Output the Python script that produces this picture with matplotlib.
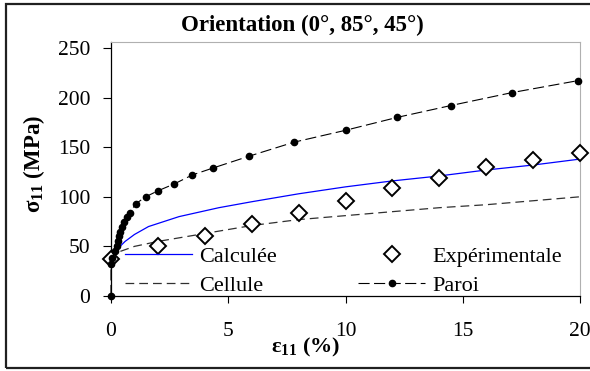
import matplotlib.pyplot as plt
from matplotlib.patches import Rectangle

plt.rcParams['font.family'] = ['Liberation Serif', 'DejaVu Serif']
plt.rcParams['mathtext.fontset'] = 'custom'
plt.rcParams['mathtext.rm'] = 'Liberation Serif'
plt.rcParams['mathtext.it'] = 'Liberation Serif:italic'
plt.rcParams['mathtext.bf'] = 'Liberation Serif:bold'

# strain (%) / stress (MPa)
calc_x = [0, 0, 0.05, 0.3, 0.6, 1.0, 1.6, 2.9, 4.6, 6, 8, 10, 12, 14, 16, 18, 20]
calc_y = [0, 28, 40, 48, 55, 62, 70, 80, 89, 95, 103, 110, 116, 121, 127, 132, 138]

exp_x = [0, 2, 4, 6, 8, 10, 12, 14, 16, 18, 20]
exp_y = [37, 50, 60, 73, 84, 96, 109, 119, 130, 137, 144]

cell_x = [0, 0.05, 0.4, 1, 2, 4, 6, 8, 10, 12, 14, 16, 18, 20]
cell_y = [36, 40, 45, 50, 55, 63, 71, 77, 81, 85, 89, 92, 96, 100]

paroi_x = [0, 0, 0.05, 0.15, 0.25, 0.3, 0.35, 0.4, 0.48, 0.57, 0.67, 0.8, 1.06,
           1.48, 2.0, 2.7, 3.47, 4.35, 5.9, 7.8, 10, 12.2, 14.5, 17.1, 19.9]
paroi_y = [0, 32, 38, 45, 50, 55, 60, 65, 70, 75, 80, 84, 93,
           100, 106, 113, 122, 129, 141, 155, 167, 180, 192, 205, 217]

fig = plt.figure(figsize=(5.9, 3.71), dpi=100)
ax = fig.add_axes([111 / 590, 1 - 296 / 371, 469 / 590, 254 / 371])

ax.plot(calc_x, calc_y, color='#0000ff', lw=0.9, label='Calculée')
ax.plot(cell_x, cell_y, color='#303030', lw=0.9, dashes=(7, 4), label='Cellule')
ax.plot(exp_x, exp_y, ls='none', marker='D', ms=8.3, mfc='white', mec='black',
        mew=1.4, label='Expérimentale', clip_on=False, zorder=5)
ax.plot(paroi_x, paroi_y, color='black', lw=0.8, dashes=(10, 4), marker='o',
        ms=4.5, label='Paroi', clip_on=False, zorder=6)

ax.set_xlim(0, 20)
ax.set_ylim(0, 256)
ax.set_xticks([0, 5, 10, 15, 20])
ax.set_yticks([0, 50, 100, 150, 200, 250])
ax.tick_params(axis='y', direction='out', length=6, width=0.8, pad=9, labelsize=15.5)
ax.tick_params(axis='x', direction='out', length=5, width=0.8, pad=14, labelsize=15.5)
for s in ['top', 'right']:
    ax.spines[s].set_color('#b0b0b0')
for s in ['left', 'bottom']:
    ax.spines[s].set_color('black')
    ax.spines[s].set_linewidth(0.9)

h, l = ax.get_legend_handles_labels()
leg = fig.legend(h, l, ncol=2,
                 loc='upper left', bbox_to_anchor=(125 / 590, 1 - 246 / 371),
                 frameon=False, fontsize=16, handlelength=3.0, handletextpad=0.35,
                 columnspacing=3.65, labelspacing=0.38, borderpad=0, borderaxespad=0)

fig.text(302 / 590, 1 - 25 / 371, 'Orientation (0°, 85°, 45°)', ha='center',
         va='center', fontsize=16.5, fontweight='bold')
fig.text(306 / 590, 1 - 347 / 371, r'$\mathbf{\varepsilon}_{\mathbf{11}}$ (%)',
         ha='center', va='center', fontsize=16, fontweight='bold')
fig.text(34 / 590, 1 - 164 / 371, r'$\mathbf{\sigma}_{\mathbf{11}}$ (MPa)',
         ha='center', va='center', fontsize=16.5, fontweight='bold', rotation=90)

fig.patches.append(Rectangle((6 / 590, 3 / 371), 1.2, 364 / 371, transform=fig.transFigure,
                             fill=False, lw=1.6, edgecolor='#202020'))

fig.savefig('out.png', dpi=100)
